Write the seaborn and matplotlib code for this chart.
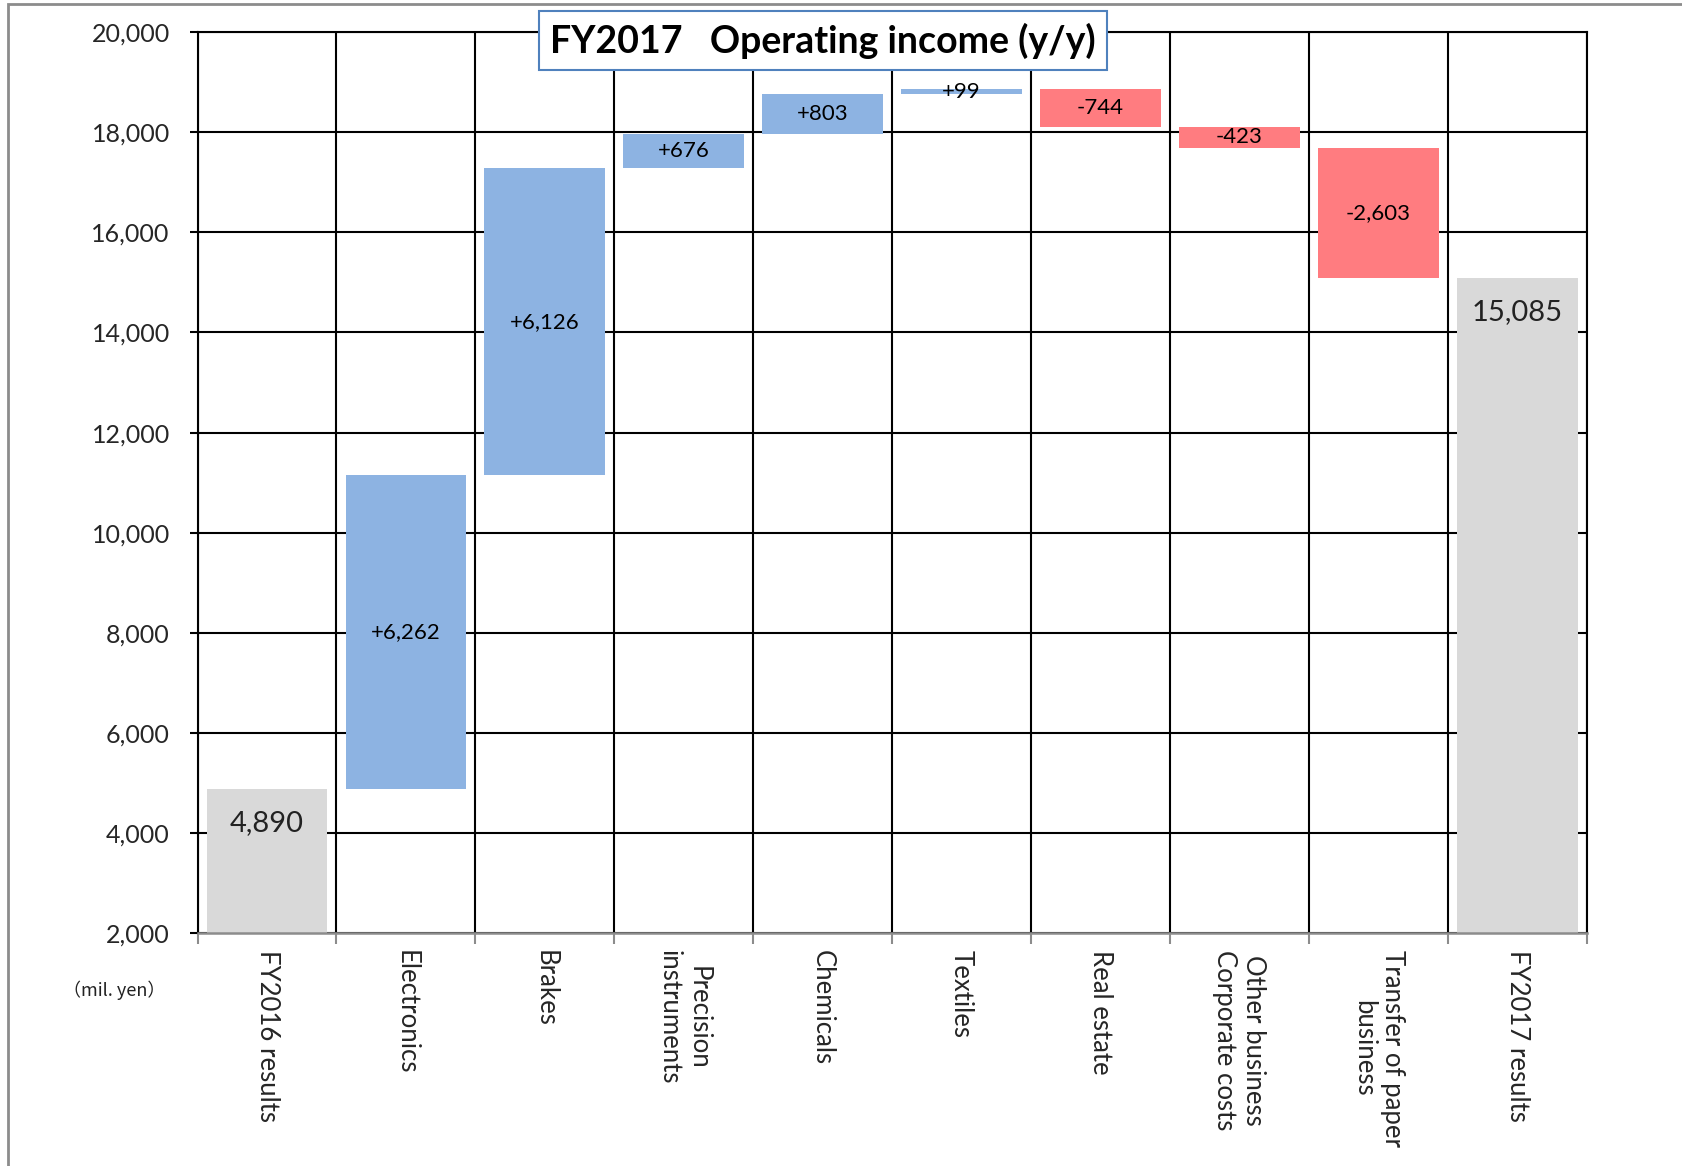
import matplotlib
matplotlib.use("Agg")
import matplotlib.pyplot as plt
import seaborn as sns
import pandas as pd
import numpy as np
from matplotlib.patches import Rectangle
from matplotlib.ticker import FuncFormatter

categories = ["FY2016 results", "Electronics", "Brakes", "Precision\ninstruments",
              "Chemicals", "Textiles", "Real estate", "Other business\nCorporate costs",
              "Transfer of paper\nbusiness", "FY2017 results"]
changes = [4890, 6262, 6126, 676, 803, 99, -744, -423, -2603, 15085]
is_total = [True, False, False, False, False, False, False, False, False, True]
value_labels = ["4,890", "+6,262", "+6,126", "+676", "+803", "+99",
                "-744", "-423", "-2,603", "15,085"]
y_ticks = [2000, 4000, 6000, 8000, 10000, 12000, 14000, 16000, 18000, 20000]

sns.set_theme(style="white")
plt.rcParams["font.family"] = ["Lato", "DejaVu Sans"]

# waterfall geometry from the changes
bottoms, heights, kinds = [], [], []
running = 0
for c, tot in zip(changes, is_total):
    if tot:
        bottoms.append(0)
        heights.append(c)
        kinds.append("total")
        running = c
    else:
        bottoms.append(running if c > 0 else running + c)
        heights.append(abs(c))
        kinds.append("up" if c > 0 else "down")
        running += c

df = pd.DataFrame({"category": categories, "height": heights, "bottom": bottoms, "kind": kinds})
palette = {"total": "#D9D9D9", "up": "#8DB3E2", "down": "#FF7C80"}

fig = plt.figure(figsize=(16.83, 11.66), dpi=100)
ax = fig.add_axes([0.1174, 0.1994, 0.8254, 0.7732])

sns.barplot(data=df, x="category", y="height", bottom=df["bottom"].values,
            width=0.87, color="#D9D9D9", saturation=1, linewidth=0, ax=ax)
for patch, k in zip(ax.patches, df["kind"]):
    patch.set_facecolor(palette[k])
    patch.set_edgecolor("none")

# labels in the bars
for i, row in df.iterrows():
    if row["kind"] == "total":
        ax.text(i, row["bottom"] + row["height"] - 680, value_labels[i],
                ha="center", va="center", fontsize=21, color="#222222")
    else:
        ax.text(i, row["bottom"] + row["height"] / 2, value_labels[i],
                ha="center", va="center", fontsize=16, color="black")

ax.set_ylim(2000, 20000)
ax.set_xlim(-0.5, len(categories) - 0.5)
ax.set_yticks(y_ticks)
ax.yaxis.set_major_formatter(FuncFormatter(lambda v, p: f"{int(v):,}"))
ax.set_xticks(np.arange(len(categories)))
ax.set_xticklabels(categories, rotation=270, ha="center", va="top",
                   multialignment="center", fontsize=18.5)
ax.set_xticks(np.arange(-0.5, len(categories), 1), minor=True)
ax.set_xlabel("")
ax.set_ylabel("")

ax.set_axisbelow(True)
ax.grid(which="major", axis="y", color="black", linewidth=1.5)
ax.grid(which="minor", axis="x", color="black", linewidth=1.5)
ax.grid(which="major", axis="x", visible=False)

ax.tick_params(axis="y", which="major", left=True, length=6, width=1.5,
               color="black", direction="out", pad=14, labelsize=18)
ax.tick_params(axis="x", which="major", length=0, pad=12)
ax.tick_params(axis="x", which="minor", bottom=True, length=8, width=1.5,
               color="#8C8C8C", direction="out")

for side in ["left", "top", "right"]:
    ax.spines[side].set_color("black")
    ax.spines[side].set_linewidth(1.5)
    ax.spines[side].set_visible(True)
ax.spines["bottom"].set_color("#8C8C8C")
ax.spines["bottom"].set_linewidth(1.8)

# title box
fig.text(0.489, 0.965, "FY2017   Operating income (y/y)", ha="center", va="center",
         fontsize=27, fontweight="bold", color="black",
         bbox=dict(boxstyle="square,pad=0.3", facecolor="white",
                   edgecolor="#4F81BD", linewidth=1.5))

fig.text(114 / 1683, 1 - 990 / 1166, "（mil. yen）", ha="center", va="center",
         fontsize=13, family=["Noto Sans CJK JP", "DejaVu Sans"], color="#222222")

# outer frame of the original slide
fig.patches.append(Rectangle((8 / 1683, -0.05), 1.2, 1.05 - 4 / 1166,
                             transform=fig.transFigure, fill=False,
                             edgecolor="#8C8C8C", linewidth=2))

fig.savefig("out.png", dpi=100)
